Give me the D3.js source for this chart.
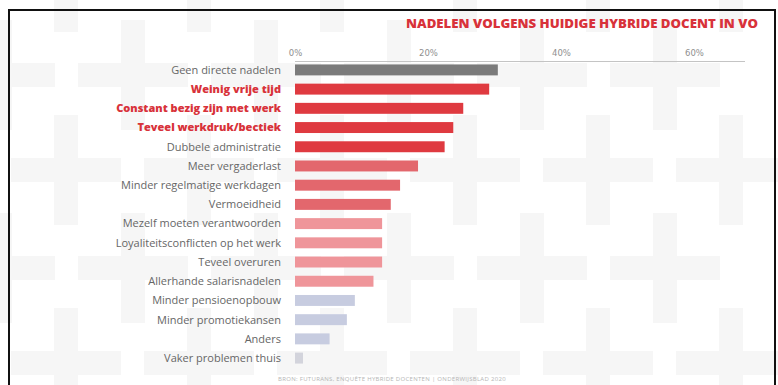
<!DOCTYPE html>
<html>
<head>
<meta charset="utf-8">
<script src="https://cdn.jsdelivr.net/npm/d3@7"></script>
<style>
  body { margin: 0; background: #fff; }
  svg { display: block; font-family: "Open Sans", sans-serif; }
</style>
</head>
<body>
<svg></svg>
<script>
// data
var categories = ["Geen directe nadelen", "Weinig vrije tijd", "Constant bezig zijn met werk",
  "Teveel werkdruk/bectiek", "Dubbele administratie", "Meer vergaderlast",
  "Minder regelmatige werkdagen", "Vermoeidheid", "Mezelf moeten verantwoorden",
  "Loyaliteitsconflicten op het werk", "Teveel overuren", "Allerhande salarisnadelen",
  "Minder pensioenopbouw", "Minder promotiekansen", "Anders", "Vaker problemen thuis"]
var values = [30.5, 29.2, 25.3, 23.8, 22.5, 18.5, 15.8, 14.4, 13.1, 13.1, 13.1, 11.8, 9.0, 7.8, 5.2, 1.2]
var groups = ["geen", "top", "top", "top", "top", "midden", "midden", "midden",
  "laag", "laag", "laag", "laag", "overig", "overig", "overig", "rest"]
var highlighted = ["Weinig vrije tijd", "Constant bezig zijn met werk", "Teveel werkdruk/bectiek"]
var ticks = [0, 20, 40, 60]
var title = "NADELEN VOLGENS HUIDIGE HYBRIDE DOCENT IN VO"
var source = "BRON: FUTURANS, ENQUÊTE HYBRIDE DOCENTEN | ONDERWIJSBLAD 2020"

var width = 778, height = 385
var svg = d3.select("svg").attr("width", width).attr("height", height)

// faint cross pattern in the background
var bg = svg.append("g").attr("fill", "#f6f6f6")
var crosses = []
for (var r = -1; r < 4; r++) {
  for (var c = -1; c < 7; c++) {
    crosses.push({x: 598 - 133 * c, y: 170 + 193 * r})
    crosses.push({x: 532 - 133 * c, y: 75 + 193 * r})
  }
}
bg.selectAll("path").data(crosses).enter().append("path")
  .attr("d", function(d) {
    var a = 12, l = 55
    return "M" + (d.x - a) + "," + (d.y - l) + "h" + 2 * a + "v" + (l - a) + "h" + (l - a) +
      "v" + 2 * a + "h" + (a - l) + "v" + (l - a) + "h" + (-2 * a) + "v" + (a - l) +
      "h" + (a - l) + "v" + (-2 * a) + "h" + (l - a) + "z"
  })

var x = d3.scaleLinear().domain([0, 60]).range([295, 694])
var y = d3.scaleBand().domain(categories).range([60.4, 367.6]).paddingInner(0.43).paddingOuter(0.21)
var color = d3.scaleOrdinal()
  .domain(["geen", "top", "midden", "laag", "overig", "rest"])
  .range(["#7b7b7b", "#df3a40", "#e3676d", "#ef959a", "#c7cce0", "#d3d4dc"])

// axis
var xAxis = d3.axisTop(x).tickValues(ticks).tickFormat(function(d) { return d + "%" }).tickSize(0)
var ax = svg.append("g").attr("transform", "translate(0,61)").call(xAxis)
ax.select(".domain").remove()
ax.selectAll("text").attr("fill", "#8f8f8f").attr("font-size", 8.5).attr("dy", "-2")
  .attr("font-family", "'DejaVu Sans', sans-serif")
svg.append("line").attr("x1", 295).attr("x2", 745).attr("y1", 61.5).attr("y2", 61.5)
  .attr("stroke", "#c4c4c4").attr("stroke-width", 1)

// bars
svg.selectAll("rect.bar").data(categories).enter().append("rect")
  .attr("class", "bar")
  .attr("x", x(0))
  .attr("y", function(d) { return y(d) })
  .attr("width", function(d, i) { return x(values[i]) - x(0) })
  .attr("height", y.bandwidth())
  .attr("fill", function(d, i) { return color(groups[i]) })

// labels
svg.selectAll("text.label").data(categories).enter().append("text")
  .attr("class", "label")
  .attr("x", 281)
  .attr("y", function(d) { return y(d) + y.bandwidth() / 2 })
  .attr("dy", "0.35em")
  .attr("text-anchor", "end")
  .attr("font-size", 11)
  .attr("font-weight", function(d) { return highlighted.indexOf(d) >= 0 ? 800 : 400 })
  .attr("fill", function(d) { return highlighted.indexOf(d) >= 0 ? "#d8323a" : "#666" })
  .text(function(d) { return d })

// title
svg.append("text").attr("x", 758).attr("y", 28).attr("text-anchor", "end")
  .attr("font-size", 12).attr("font-weight", 800).attr("fill", "#d8323a")
  .attr("textLength", 352).attr("lengthAdjust", "spacingAndGlyphs")
  .text(title)

// source
svg.append("text").attr("x", 392).attr("y", 381).attr("text-anchor", "middle")
  .attr("font-size", 6).attr("fill", "#b5b5b5").attr("letter-spacing", 0.3)
  .text(source)

// frame
svg.append("rect").attr("x", 9).attr("y", 10).attr("width", 766).attr("height", 390)
  .attr("fill", "none").attr("stroke", "#111").attr("stroke-width", 2)
</script>
</body>
</html>
